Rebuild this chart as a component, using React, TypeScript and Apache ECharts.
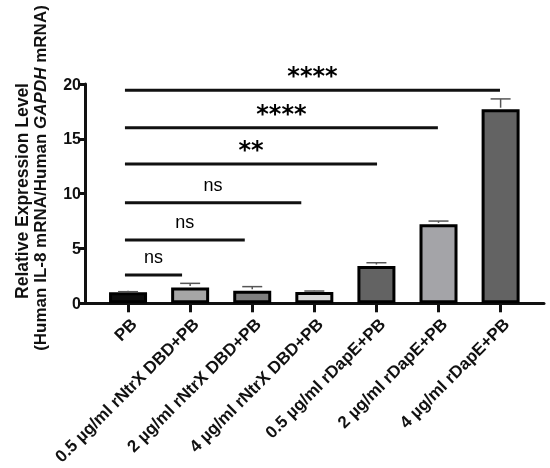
import React, { useEffect, useRef } from "react";
import * as echarts from "echarts";

const categories = [
  "PB",
  "0.5 µg/ml rNtrX DBD+PB",
  "2 µg/ml rNtrX DBD+PB",
  "4 µg/ml rNtrX DBD+PB",
  "0.5 µg/ml rDapE+PB",
  "2 µg/ml rDapE+PB",
  "4 µg/ml rDapE+PB",
];
const means = [1.0, 1.45, 1.15, 1.02, 3.4, 7.2, 17.7];
const errTop = [1.06, 1.82, 1.52, 1.12, 3.7, 7.5, 18.64];
const barColors = ["#0d0d0d", "#a6a6a6", "#7f7f7f", "#d9d9d9", "#636363", "#a4a4a8", "#636363"];

const sigLabels = ["ns", "ns", "ns", "**", "****", "****"];
const sigY = [2.58, 5.78, 9.18, 12.7, 16.0, 19.43];
const sigStart = [-0.05, -0.05, -0.05, -0.05, -0.05, -0.05];
const sigEnd = [0.87, 1.88, 2.79, 4.01, 4.99, 5.99];

const yTicks = { min: 0, max: 20, interval: 5 };

const FONT = "Liberation Sans, Arial, sans-serif";

export default function App() {
  const ref = useRef<HTMLDivElement>(null);
  useEffect(() => {
    if (!ref.current) return;
    const chart = echarts.init(ref.current, undefined, { renderer: "svg" });

    const sigLineSeries = sigY.map((y, i) => ({
      type: "line",
      xAxisIndex: 1,
      yAxisIndex: 0,
      data: [
        [sigStart[i], y],
        [sigEnd[i], y],
      ],
      symbol: "none",
      lineStyle: { color: "#111", width: 3 },
      silent: true,
      z: 5,
    }));

    const sigLabelSeries = {
      type: "scatter",
      xAxisIndex: 1,
      yAxisIndex: 0,
      symbolSize: 1,
      itemStyle: { color: "rgba(0,0,0,0)", opacity: 1 },
      silent: true,
      data: sigY.map((y, i) => ({
        value: [(sigStart[i] + sigEnd[i]) / 2, y],
        label: sigLabels[i] === "ns"
          ? { show: true, formatter: sigLabels[i], position: "inside", offset: [0, -18], fontSize: 18, fontWeight: "normal", fontFamily: FONT, color: "#000", textBorderWidth: 0, opacity: 1 }
          : { show: true, formatter: sigLabels[i], position: "inside", offset: [0, -14], fontSize: 24, fontWeight: "bold", fontFamily: "DejaVu Sans", color: "#000", textBorderWidth: 0, opacity: 1 },
      })),
      z: 6,
    };

    const option: any = {
      animation: false,
      grid: [
        { left: 97, right: 18.35, top: 84, bottom: 164.7 },
        { left: 85, right: 6, top: 84, bottom: 164.7 },
      ],
      xAxis: [
        {
          type: "category",
          gridIndex: 0,
          data: categories,
          axisLine: { show: false },
          axisTick: { show: true, alignWithLabel: true, length: 9, lineStyle: { color: "#111", width: 3 } },
          axisLabel: {
            interval: 0,
            rotate: 45,
            margin: 12,
            verticalAlign: "top",
            fontSize: 17,
            fontWeight: "bold",
            fontFamily: FONT,
            color: "#111",
          },
        },
        { type: "value", gridIndex: 0, position: "top", show: false, min: -0.5, max: 6.5 },
        {
          type: "value",
          gridIndex: 1,
          min: 0,
          max: 1,
          axisLine: { show: true, lineStyle: { color: "#111", width: 3 } },
          axisTick: { show: false },
          axisLabel: { show: false },
          splitLine: { show: false },
        },
      ],
      yAxis: [
        { type: "value", gridIndex: 0, show: false, min: yTicks.min, max: yTicks.max },
        {
          type: "value",
          gridIndex: 1,
          min: yTicks.min,
          max: yTicks.max,
          interval: yTicks.interval,
          axisLine: { show: true, lineStyle: { color: "#111", width: 3 } },
          axisTick: { show: true, length: 7, lineStyle: { color: "#111", width: 3 } },
          axisLabel: { fontSize: 16, fontWeight: "bold", fontFamily: FONT, color: "#111", margin: 4 },
          splitLine: { show: false },
        },
      ],
      series: [
        {
          type: "bar",
          xAxisIndex: 0,
          yAxisIndex: 0,
          barWidth: 38,
          data: means.map((v, i) => ({
            value: v,
            itemStyle: { color: barColors[i], borderColor: "#000", borderWidth: 3 },
          })),
          z: 2,
        },
        {
          type: "custom",
          xAxisIndex: 0,
          yAxisIndex: 0,
          data: means.map((v, i) => [i, v, errTop[i]]),
          renderItem: (params: any, api: any) => {
            const base = api.coord([api.value(0), api.value(1)]);
            const top = api.coord([api.value(0), api.value(2)]);
            const style = { stroke: "#555", lineWidth: 1.5 };
            return {
              type: "group",
              children: [
                { type: "line", shape: { x1: base[0], y1: base[1] - 1.5, x2: top[0], y2: top[1] }, style },
                { type: "line", shape: { x1: top[0] - 10, y1: top[1], x2: top[0] + 10, y2: top[1] }, style },
              ],
            };
          },
          z: 3,
        },
        ...sigLineSeries,
        sigLabelSeries,
      ],
      graphic: [
        {
          type: "text",
          x: 22,
          y: 191,
          rotation: Math.PI / 2,
          style: {
            text: "Relative Expression Level",
            font: `bold 17.5px ${FONT}`,
            fill: "#111",
            align: "center",
            verticalAlign: "middle",
          },
        },
        {
          type: "text",
          x: 40,
          y: 178,
          rotation: Math.PI / 2,
          style: {
            text: "{b|(Human IL-8 mRNA/Human }{i|GAPDH}{b| mRNA)}",
            align: "center",
            verticalAlign: "middle",
            fill: "#111",
            rich: {
              b: { fontSize: 17, fontWeight: "bold", fontFamily: FONT, fill: "#111", color: "#111" },
              i: { fontSize: 17, fontWeight: "bold", fontStyle: "italic", fontFamily: FONT, fill: "#111", color: "#111" },
            },
          },
        },
      ],
    };
    chart.setOption(option);
    return () => chart.dispose();
  }, []);
  return <div ref={ref} style={{ position: "fixed", left: 0, top: 0, width: 550, height: 468 }} />;
}
